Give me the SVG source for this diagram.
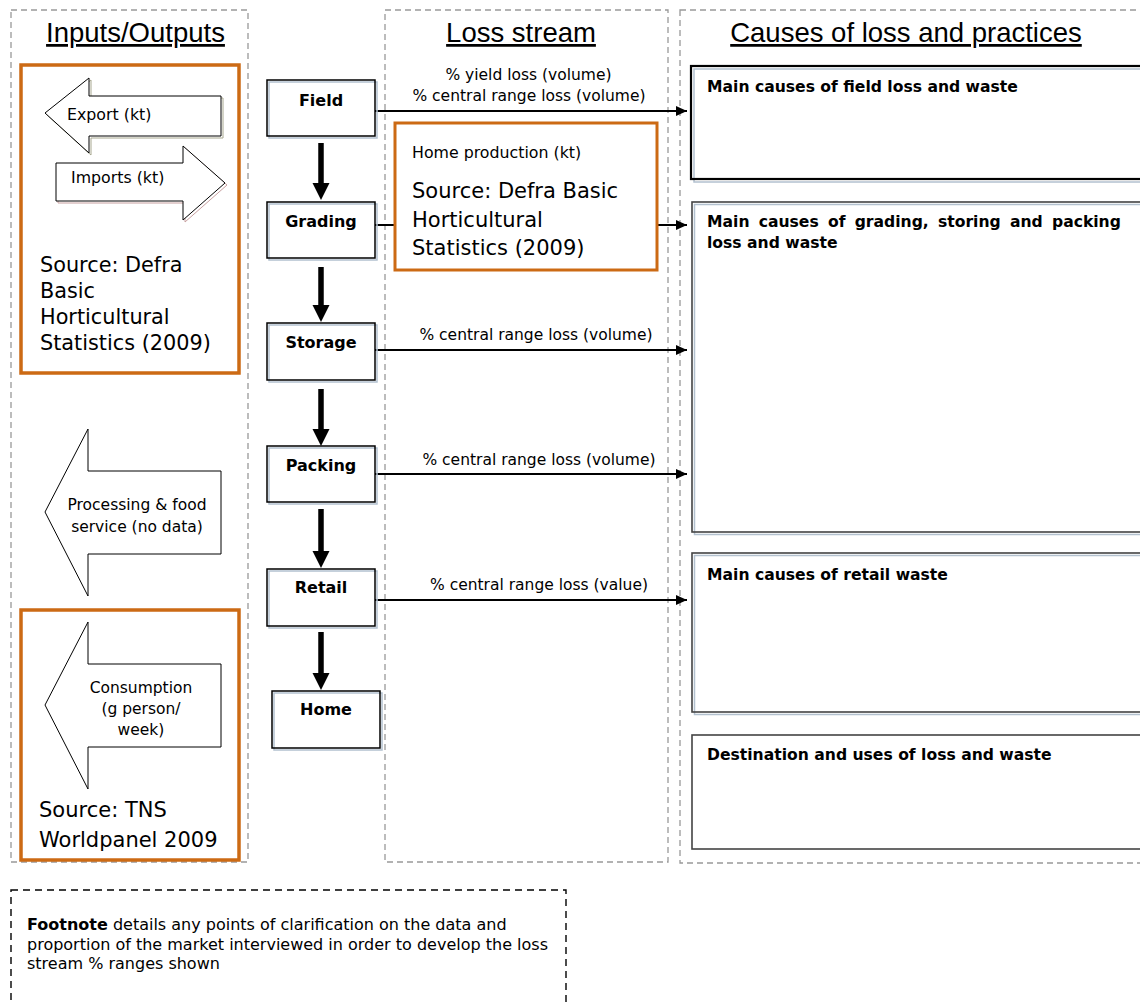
<svg xmlns="http://www.w3.org/2000/svg" width="1140" height="1005" viewBox="0 0 1140 1005">
<style>
  text { font-family: "DejaVu Sans", Verdana, sans-serif; fill: #000; }
  .hdr { font-family: "Liberation Sans", Arial, sans-serif; font-size: 27.5px; text-decoration: underline; text-anchor: middle; }
  .col { fill: none; stroke: #999; stroke-width: 1.3; stroke-dasharray: 6 4; }
  .orange { fill: #fff; stroke: #CC6A14; stroke-width: 3.5; }
  .src { font-size: 20.8px; }
  .sm { font-size: 15.8px; }
  .lbl { font-size: 15.5px; text-anchor: middle; }
  .nodeFill { fill: #fff; stroke: none; }
  .shadow { fill: none; stroke: #b3c1cf; stroke-width: 1.5; }
  .nodeBorder { fill: none; stroke: #000; stroke-width: 1.5; }
  .nodeText { font-size: 16px; font-weight: bold; text-anchor: middle; }
  .bigArrow { fill: #fff; stroke: #000; stroke-width: 1; }
  .boxText { font-size: 15.6px; font-weight: bold; }
  .hline { stroke: #000; stroke-width: 1.8; fill: none; }
  .vline { stroke: #000; stroke-width: 5.5; fill: none; }
</style>
<defs>
  <marker id="tri" markerWidth="11" markerHeight="10" refX="11" refY="5" orient="auto" markerUnits="userSpaceOnUse">
    <path d="M0,0 L11,5 L0,10 z" fill="#000"/>
  </marker>
</defs>

<rect width="1140" height="1005" fill="#fff"/>

<!-- column frames -->
<g id="columns">
  <rect class="col" x="11" y="10" width="237" height="852"/>
  <rect class="col" x="385" y="10" width="283" height="852"/>
  <rect class="col" x="680" y="10" width="470" height="853"/>
  <text class="hdr" x="135.5" y="42">Inputs/Outputs</text>
  <text class="hdr" x="521" y="42">Loss stream</text>
  <text class="hdr" x="906" y="42">Causes of loss and practices</text>
</g>

<!-- connectors -->
<g id="connectors">
  <line class="hline" x1="375" y1="111" x2="687" y2="111" marker-end="url(#tri)"/>
  <line class="hline" x1="375" y1="225" x2="687" y2="225" marker-end="url(#tri)"/>
  <line class="hline" x1="375" y1="350" x2="687" y2="350" marker-end="url(#tri)"/>
  <line class="hline" x1="375" y1="474" x2="687" y2="474" marker-end="url(#tri)"/>
  <line class="hline" x1="375" y1="600" x2="687" y2="600" marker-end="url(#tri)"/>
  <text class="lbl" x="528.5" y="80">% yield loss (volume)</text>
  <text class="lbl" x="529" y="101">% central range loss (volume)</text>
  <text class="lbl" x="536" y="340">% central range loss (volume)</text>
  <text class="lbl" x="539" y="465">% central range loss (volume)</text>
  <text class="lbl" x="539" y="590">% central range loss (value)</text>

  <line class="vline" x1="321" y1="143" x2="321" y2="184"/>
  <polygon points="312.5,183 329.5,183 321,200" fill="#000"/>
  <line class="vline" x1="321" y1="267" x2="321" y2="306"/>
  <polygon points="312.5,305 329.5,305 321,322" fill="#000"/>
  <line class="vline" x1="321" y1="389" x2="321" y2="430"/>
  <polygon points="312.5,429 329.5,429 321,446" fill="#000"/>
  <line class="vline" x1="321" y1="509" x2="321" y2="552"/>
  <polygon points="312.5,551 329.5,551 321,568" fill="#000"/>
  <line class="vline" x1="321" y1="632" x2="321" y2="674"/>
  <polygon points="312.5,673 329.5,673 321,690" fill="#000"/>
</g>

<!-- left column: trade source -->
<g id="node-trade">
  <rect class="orange" x="21" y="65" width="218" height="308"/>
  <polygon points="47,115 91,80 91,98 223,98 223,138 91,138 91,155" fill="none" stroke="#a8a890" stroke-width="1"/>
  <polygon class="bigArrow" points="45,113 89,78 89,96 221,96 221,136 89,136 89,153"/>
  <text class="sm" x="67" y="120">Export (kt)</text>
  <polygon points="58,165 185,165 185,148 227,185 185,222 185,203 58,203" fill="none" stroke="#c8a0a0" stroke-width="1"/>
  <polygon class="bigArrow" points="56,163 183,163 183,146 225,183 183,220 183,201 56,201"/>
  <text class="sm" x="71" y="183">Imports (kt)</text>
  <text class="src" x="40" y="272">Source: Defra</text>
  <text class="src" x="40" y="298">Basic</text>
  <text class="src" x="40" y="324">Horticultural</text>
  <text class="src" x="40" y="350">Statistics (2009)</text>
</g>

<g id="node-processing">
  <polygon class="bigArrow" points="45,512 88,429 88,471 221,471 221,554 88,554 88,596"/>
  <text class="lbl" x="137" y="510">Processing &amp; food</text>
  <text class="lbl" x="137" y="532">service (no data)</text>
</g>

<g id="node-consumption">
  <rect class="orange" x="21" y="610" width="218" height="250"/>
  <polygon class="bigArrow" points="45,705 88,622 88,664 221,664 221,747 88,747 88,789"/>
  <text class="lbl" x="141" y="693">Consumption</text>
  <text class="lbl" x="141" y="714">(g person/</text>
  <text class="lbl" x="141" y="735">week)</text>
  <text class="src" x="39" y="817" style="font-size:21px">Source: TNS</text>
  <text class="src" x="39" y="847" style="font-size:21px">Worldpanel 2009</text>
</g>

<!-- middle column: stages -->
<g id="node-field">
  <rect class="nodeFill" x="267" y="80" width="108" height="56"/>
  <rect class="shadow" x="269" y="82" width="108" height="56"/>
  <rect class="nodeBorder" x="267" y="80" width="108" height="56"/>
  <text class="nodeText" x="321" y="106">Field</text>
</g>
<g id="node-grading">
  <rect class="nodeFill" x="267" y="202" width="108" height="56"/>
  <rect class="shadow" x="269" y="204" width="108" height="56"/>
  <rect class="nodeBorder" x="267" y="202" width="108" height="56"/>
  <text class="nodeText" x="321" y="227">Grading</text>
</g>
<g id="node-storage">
  <rect class="nodeFill" x="267" y="323" width="108" height="57"/>
  <rect class="shadow" x="269" y="325" width="108" height="57"/>
  <rect class="nodeBorder" x="267" y="323" width="108" height="57"/>
  <text class="nodeText" x="321" y="348">Storage</text>
</g>
<g id="node-packing">
  <rect class="nodeFill" x="267" y="446" width="108" height="56"/>
  <rect class="shadow" x="269" y="448" width="108" height="56"/>
  <rect class="nodeBorder" x="267" y="446" width="108" height="56"/>
  <text class="nodeText" x="321" y="471">Packing</text>
</g>
<g id="node-retail">
  <rect class="nodeFill" x="267" y="569" width="108" height="57"/>
  <rect class="shadow" x="269" y="571" width="108" height="57"/>
  <rect class="nodeBorder" x="267" y="569" width="108" height="57"/>
  <text class="nodeText" x="321" y="593">Retail</text>
</g>
<g id="node-home">
  <rect class="nodeFill" x="272" y="691" width="108" height="57"/>
  <rect class="shadow" x="274" y="693" width="108" height="57"/>
  <rect class="nodeBorder" x="272" y="691" width="108" height="57"/>
  <text class="nodeText" x="326" y="715">Home</text>
</g>

<g id="node-home-production">
  <rect class="orange" x="395" y="123" width="262" height="147" style="stroke-width:3"/>
  <text class="sm" x="412" y="158">Home production (kt)</text>
  <text class="src" x="412" y="198" style="font-size:21px">Source: Defra Basic</text>
  <text class="src" x="412" y="227" style="font-size:21px">Horticultural</text>
  <text class="src" x="412" y="255" style="font-size:21px">Statistics (2009)</text>
</g>

<!-- right column: causes -->
<g id="node-field-causes">
  <rect x="691" y="66" width="470" height="113" fill="#fff" stroke="none"/>
  <rect x="694" y="69" width="470" height="113" fill="none" stroke="#b3c1cf" stroke-width="1.5"/>
  <rect x="691" y="66" width="470" height="113" fill="none" stroke="#000" stroke-width="2.2"/>
  <text class="boxText" x="707" y="92">Main causes of field loss and waste</text>
</g>
<g id="node-gsp-causes">
  <rect x="692" y="202" width="470" height="330" fill="#fff" stroke="none"/>
  <rect x="694.5" y="204.5" width="470" height="330" fill="none" stroke="#b3c1cf" stroke-width="1.5"/>
  <rect x="692" y="202" width="470" height="330" fill="none" stroke="#444" stroke-width="1.6"/>
  <text class="boxText" x="707" y="227" word-spacing="3.8">Main causes of grading, storing and packing</text>
  <text class="boxText" x="707" y="248">loss and waste</text>
</g>
<g id="node-retail-causes">
  <rect x="692" y="553" width="470" height="159" fill="#fff" stroke="none"/>
  <rect x="694.5" y="555.5" width="470" height="159" fill="none" stroke="#b3c1cf" stroke-width="1.5"/>
  <rect x="692" y="553" width="470" height="159" fill="none" stroke="#444" stroke-width="1.6"/>
  <text class="boxText" x="707" y="580">Main causes of retail waste</text>
</g>
<g id="node-destination">
  <rect x="692" y="735" width="470" height="114" fill="#fff" stroke="#444" stroke-width="1.6"/>
  <text class="boxText" x="707" y="760">Destination and uses of loss and waste</text>
</g>

<!-- footnote -->
<g id="node-footnote">
  <rect x="11" y="890" width="555" height="130" fill="none" stroke="#000" stroke-width="1.4" stroke-dasharray="7 5"/>
  <text style="font-size:16px" x="27" y="930"><tspan font-weight="bold">Footnote</tspan> details any points of clarification on the data and</text>
  <text style="font-size:16px" x="27" y="950">proportion of the market interviewed in order to develop the loss</text>
  <text style="font-size:16px" x="27" y="969">stream % ranges shown</text>
</g>
</svg>
